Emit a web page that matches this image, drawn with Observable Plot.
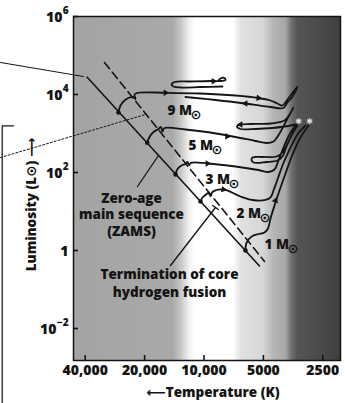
<!DOCTYPE html>
<html><head><meta charset="utf-8">
<script src="https://cdn.jsdelivr.net/npm/d3@7"></script>
<script src="https://cdn.jsdelivr.net/npm/@observablehq/plot@0.6"></script>
<style>
html,body{margin:0;padding:0;background:#fff;}
#chart svg{display:block;}
</style></head><body>
<svg width="0" height="0" style="position:absolute"><defs>
<linearGradient id="bg" x1="0" x2="1" y1="0" y2="0">
<stop offset="0" stop-color="#a4a4a4"/>
<stop offset="0.371" stop-color="#a9a9a9"/>
<stop offset="0.401" stop-color="#c6c6c6"/>
<stop offset="0.434" stop-color="#f2f2f2"/>
<stop offset="0.457" stop-color="#ffffff"/>
<stop offset="0.596" stop-color="#ffffff"/>
<stop offset="0.629" stop-color="#e0e0e0"/>
<stop offset="0.708" stop-color="#d7d7d7"/>
<stop offset="0.749" stop-color="#b6b6b6"/>
<stop offset="0.794" stop-color="#a7a7a7"/>
<stop offset="0.816" stop-color="#707070"/>
<stop offset="0.839" stop-color="#555555"/>
<stop offset="0.925" stop-color="#4a4a4a"/>
<stop offset="1" stop-color="#3e3e3e"/>
</linearGradient></defs></svg>
<div id="chart"></div>
<script>
// ---- axis ticks ----
const xTicks = [40000, 20000, 10000, 5000, 2500];
const xTickLabels = ["40,000", "20,000", "10,000", "5000", "2500"];
const yTicks = [1e6, 1e4, 1e2, 1, 1e-2];
const yTickBase = ["10", "10", "10", "1", "10"];
const yTickExp = ["6", "4", "2", "", "\u22122"];

// ---- main-sequence lines [T (K), L (Lsun)] ----
const zamsLine = [[39080, 27770], [5233, 0.401]];
const tamsLine = [[31930, 66150], [4935, 0.5222]];

// ---- evolutionary tracks [T (K), L (Lsun)] ----
const track9 = [[27130,3455],[26500,5224],[25290,7019],[23850,8377],[22770,8629],[22240,7664],[22500,10000],[21730,11055],[15670,11055],[10416,10608],[6923,9427],[5293,8134],[4601,7019],[4241,5878],[4000,5224],[3773,7442],[3358,16040],[3559,8886],[3773,6236],[3954,4506],[4601,4780],[6161,5878],[8743,7228],[11704,8377],[12408,8629]];
const loop9 = [[8057,16040],[10416,15570],[13154,15115],[14272,16040],[14610,18050],[14107,20920],[11704,21544],[9268,22200],[8152,22200],[7780,23540],[7871,26490],[8248,25720],[8443,22860]];
const track5 = [[19400,577.5],[18890,813.5],[18030,1093],[17010,1305],[16520,1468],[16230,1125],[15860,1384],[12408,1266],[9268,1061],[6923,813.5],[5482,642],[4822,570.7],[4443,623.6],[4143,1000],[3817,2154],[3518,4642],[3686,3070],[3908,2154],[4601,1805],[5812,1752],[6531,1701],[6804,1512],[6531,1305],[5482,1305],[4495,1384],[3908,1512],[3437,1701]];
const track3 = [[13944,88.86],[13623,122.9],[13002,151.2],[12408,165.2],[12122,185.9],[11912,155.7],[11637,177.3],[9598,170.1],[6923,142.5],[5293,115.9],[4710,103.0],[4391,119.4],[4192,203.1],[3954,437.5],[3686,942.7],[3397,1701],[3559,1000],[3773,554.1],[4000,325.6],[4291,257.2],[5051,249.7],[5677,242.4],[5744,209.2],[5612,180.5],[4822,185.9],[4241,203.1],[4000,257.2],[3817,464.2],[3601,888.6],[3358,1604]];
const track2 = [[10416,18.05],[10175,22.86],[9826,26.49],[9488,29.82],[9268,24.97],[9055,31.62],[7964,36.66],[6531,24.24],[5677,19.72],[4878,19.72],[4601,22.86],[4443,34.55],[4241,66.15],[4000,151.2],[3686,388.8],[3358,942.7],[3059,1604]];
const track1 = [[6161,1],[6125,1.425],[5949,1.915],[5678,2.354],[5293,2.649],[4935,2.894],[4739,3.666],[4601,6.615],[4391,14.25],[4143,34.55],[3862,94.27],[3559,289.4],[3243,789.6],[2953,1604]];

// ---- ZAMS starting points and mass labels ----
const massLabels = ["9", "5", "3", "2", "1"];
const zamsT = [27130, 19400, 13944, 10416, 6161];
const zamsL = [3455, 577.5, 88.86, 18.05, 1];
const labelT = [15310, 11982, 9826, 6843, 4935];
const labelL = [3775, 492.4, 66.15, 8.886, 1.384];

// ---- direction arrowheads on tracks ----
const arrowT = [15670, 8949, 7627, 9598, 7964, 4341, 6531, 6161, 5293];
const arrowL = [11055, 21800, 837.7, 170.1, 36.66, 19.15, 1701, 5878, 8134];
const arrowDir = [90, 90, 95, 90, 100, 18, -90, -90, 96];

// ---- red giant markers ----
const starT = [3319, 2919];
const starL = [2031, 2031];

// ---- annotation leaders ----
const zamsLeader = [[21730, 43.75], [17010, 272.9]];
const tamsLeader = [[14784, 0.4124], [8743, 12.66]];
const tamsLeaderEnd = [[9033, 14.33], [8463, 11.19]];
const outsideSolid = [[107480, 66150], [40800, 28940]];
const outsideDotted = [[107480, 242.4], [19790, 3070]];
const panelEdge = [[92360, 1576], [105370, 1576], [105370, 1.19e-4]];

const zamsNote = {T: 23300, L: 8.629, text: "Zero-age\nmain sequence\n(ZAMS)"};
const tamsNote = {T: 14958, L: 0.1512, text: "Termination of core\nhydrogen fusion"};

// ---- build tables ----
const rows = (arr, seg) => arr.map(([T, L]) => ({T, L, seg}));
const trackRows = [
  ...rows(track9, "9"), ...rows(loop9, "9b"), ...rows(track5, "5"),
  ...rows(track3, "3"), ...rows(track2, "2"), ...rows(track1, "1")
];
const yRows = yTicks.map((v, i) => ({v, base: yTickBase[i], exp: yTickExp[i]}));
const px = d => d[0], py = d => d[1];

const ink = "#141414";
const font = "'Open Sans', 'DejaVu Sans', sans-serif";
const bold = {fontWeight: 800, fill: ink};

const plot = Plot.plot({
  width: 345, height: 403,
  marginLeft: 73, marginRight: 5, marginTop: 16, marginBottom: 43,
  x: {type: "log", domain: [45850, 2033], axis: null},
  y: {type: "log", domain: [0.001511, 1e6], axis: null},
  style: {fontFamily: font, background: "#fff", overflow: "visible"},
  marks: [
    Plot.frame({fill: "url(#bg)"}),
    Plot.line(panelEdge, {x: px, y: py, stroke: ink, strokeWidth: 1.2}),
    Plot.line(outsideSolid, {x: px, y: py, stroke: ink, strokeWidth: 1}),
    Plot.line(outsideDotted, {x: px, y: py, stroke: ink, strokeWidth: 1, strokeDasharray: "2,2"}),
    Plot.line(zamsLine, {x: px, y: py, stroke: ink, strokeWidth: 1.6}),
    Plot.line(tamsLine, {x: px, y: py, stroke: ink, strokeWidth: 1.6, strokeDasharray: "8,4.5"}),
    Plot.line(trackRows, {x: "T", y: "L", z: "seg", stroke: ink, strokeWidth: 1.8, curve: "catmull-rom"}),
    Plot.dot(zamsT, {x: d => d, y: (d, i) => zamsL[i], r: 2.3, fill: ink}),
    Plot.dot(arrowT, {x: d => d, y: (d, i) => arrowL[i], rotate: (d, i) => arrowDir[i], symbol: "triangle", r: 2.4, fill: ink}),
    Plot.line(zamsLeader, {x: px, y: py, stroke: ink, strokeWidth: 1.3}),
    Plot.line(tamsLeader, {x: px, y: py, stroke: ink, strokeWidth: 1.3}),
    Plot.line(tamsLeaderEnd, {x: px, y: py, stroke: ink, strokeWidth: 1.3}),
    Plot.text(starT, {x: d => d, y: (d, i) => starL[i], text: () => "\u2731", fill: "#dcdcdc", fontSize: 8}),
    Plot.text(massLabels, {x: (d, i) => labelT[i], y: (d, i) => labelL[i], text: d => d + " M", textAnchor: "start", fontSize: 13.5, ...bold}),
    Plot.text(massLabels, {x: (d, i) => labelT[i], y: (d, i) => labelL[i], text: () => "\u2299", textAnchor: "start", dx: 23, dy: 4, fontSize: 13, fontWeight: 700, fill: ink}),
    Plot.text([zamsNote], {x: "T", y: "L", text: "text", lineHeight: 1.22, fontSize: 13.5, ...bold}),
    Plot.text([tamsNote], {x: "T", y: "L", text: "text", lineHeight: 1.32, fontSize: 13.5, ...bold}),
    Plot.frame({stroke: ink, strokeWidth: 1.5}),
    Plot.tickX(xTicks, {x: d => d, insetTop: 339, stroke: ink, strokeWidth: 1.6}),
    Plot.tickY(yTicks, {y: d => d, insetRight: 262, stroke: ink, strokeWidth: 1.6}),
    Plot.text(xTicks, {x: d => d, text: (d, i) => xTickLabels[i], frameAnchor: "bottom", lineAnchor: "middle", dy: 10.5, fontSize: 14, ...bold}),
    Plot.text(yRows.filter(r => r.exp.length === 1), {y: "v", text: "base", frameAnchor: "left", textAnchor: "end", lineAnchor: "middle", dx: -11, dy: 1, fontSize: 14, ...bold}),
    Plot.text(yRows.filter(r => r.exp.length > 1), {y: "v", text: "base", frameAnchor: "left", textAnchor: "end", lineAnchor: "middle", dx: -17, dy: 1, fontSize: 14, ...bold}),
    Plot.text(yRows.filter(r => r.exp.length === 0), {y: "v", text: "base", frameAnchor: "left", textAnchor: "end", lineAnchor: "middle", dx: -5, dy: 1, fontSize: 14, ...bold}),
    Plot.text(yRows.filter(r => r.exp.length > 0), {y: "v", text: "exp", frameAnchor: "left", textAnchor: "end", lineAnchor: "middle", dx: -5, dy: -5.5, fontSize: 10, ...bold}),
    Plot.text(["Luminosity (L\u2299) \u27F6"], {text: d => d, frameAnchor: "left", textAnchor: "middle", lineAnchor: "middle", rotate: -90, dx: -42, dy: 16, fontSize: 13.5, ...bold}),
    Plot.text(["\u27F5Temperature (K)"], {text: d => d, frameAnchor: "bottom", textAnchor: "middle", lineAnchor: "middle", dx: 6, dy: 32, fontSize: 13.5, ...bold})
  ]
});
document.getElementById("chart").append(plot);
</script>
</body></html>
